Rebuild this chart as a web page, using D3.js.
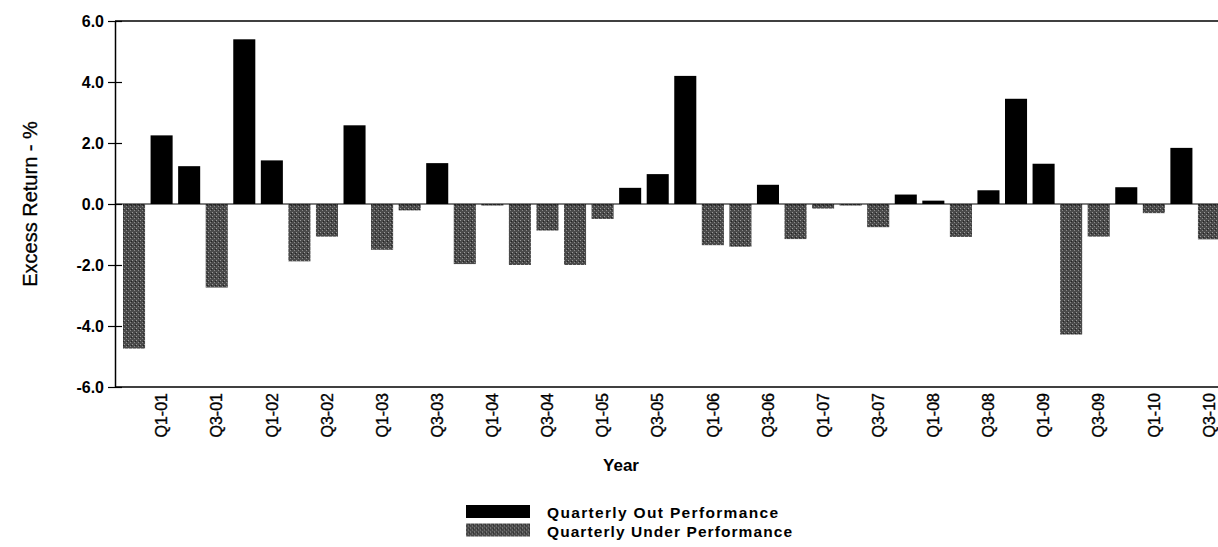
<!DOCTYPE html>
<html><head><meta charset="utf-8">
<script src="https://cdn.jsdelivr.net/npm/d3@7"></script>
<style>
body{margin:0;background:#fff}
svg text{font-family:"Liberation Sans",Arial,sans-serif;fill:#000}
</style>
</head><body>
<svg id="chart" width="1218" height="547"></svg>
<script>
// ---- data ----
const quarters = ["Q4-00","Q1-01","Q2-01","Q3-01","Q4-01","Q1-02","Q2-02","Q3-02","Q4-02","Q1-03",
  "Q2-03","Q3-03","Q4-03","Q1-04","Q2-04","Q3-04","Q4-04","Q1-05","Q2-05","Q3-05",
  "Q4-05","Q1-06","Q2-06","Q3-06","Q4-06","Q1-07","Q2-07","Q3-07","Q4-07","Q1-08",
  "Q2-08","Q3-08","Q4-08","Q1-09","Q2-09","Q3-09","Q4-09","Q1-10","Q2-10","Q3-10"];
const outPerformance = [0,2.25,1.24,0,5.40,1.43,0,0,2.58,0,
  0,1.34,0,0,0,0,0,0,0.53,0.98,
  4.20,0,0,0.63,0,0,0,0,0.31,0.11,
  0,0.45,3.45,1.32,0,0,0.55,0,1.84,0];
const underPerformance = [-4.74,0,0,-2.74,0,0,-1.88,-1.07,0,-1.50,
  -0.21,0,-1.97,-0.03,-2.00,-0.87,-2.00,-0.49,0,0,
  0,-1.35,-1.40,0,-1.15,-0.15,-0.03,-0.76,0,0,
  -1.08,0,0,0,-4.28,-1.07,0,-0.30,0,-1.16];
const yTicks = [-6,-4,-2,0,2,4,6];
const xTickLabels = ["Q1-01","Q3-01","Q1-02","Q3-02","Q1-03","Q3-03","Q1-04","Q3-04","Q1-05","Q3-05",
  "Q1-06","Q3-06","Q1-07","Q3-07","Q1-08","Q3-08","Q1-09","Q3-09","Q1-10","Q3-10"];
const seriesNames = ["Quarterly Out Performance","Quarterly Under Performance"];
const seriesColors = ["#000000","#4a4a4a"];

// ---- layout ----
const svg = d3.select("#chart");
const mLeft = 115, mTop = 21, mBottom = 387, mRight = 1230;
const FONT = "Liberation Sans, Arial, sans-serif";

const x = d3.scaleBand().domain(quarters).range([117.5, 1225.5]).padding(0.2);
const y = d3.scaleLinear().domain([-6, 6]).range([mBottom, mTop]);

// stipple pattern for the under-performance bars
const defs = svg.append("defs");
const pat = defs.append("pattern").attr("id", "stipple").attr("patternUnits", "userSpaceOnUse")
  .attr("width", 4).attr("height", 4);
pat.append("rect").attr("width", 4).attr("height", 4).attr("fill", seriesColors[1]);
pat.append("rect").attr("x", 0).attr("y", 0).attr("width", 1).attr("height", 1).attr("fill", "#9a9a9a");
pat.append("rect").attr("x", 2).attr("y", 2).attr("width", 1).attr("height", 1).attr("fill", "#8a8a8a");
pat.append("rect").attr("x", 3).attr("y", 1).attr("width", 1).attr("height", 1).attr("fill", "#222");
const fills = ["#000000", "url(#stipple)"];

// frame top line
svg.append("line").attr("x1", mLeft).attr("x2", mRight).attr("y1", mTop).attr("y2", mTop)
  .attr("stroke", "#000").attr("stroke-width", 1.5);

// bars
const series = [outPerformance, underPerformance];
series.forEach((vals, si) => {
  svg.append("g").selectAll("rect").data(vals.map((v, i) => ({q: quarters[i], v})).filter(d => d.v !== 0))
    .join("rect")
    .attr("x", d => x(d.q))
    .attr("width", x.bandwidth())
    .attr("y", d => y(Math.max(0, d.v)))
    .attr("height", d => Math.max(1.5, Math.abs(y(d.v) - y(0))))
    .attr("fill", fills[si]);
});

// zero line
svg.append("line").attr("x1", mLeft).attr("x2", mRight).attr("y1", y(0)).attr("y2", y(0))
  .attr("stroke", "#000").attr("stroke-width", 1.2);

// y axis
const yAxis = svg.append("g").attr("transform", `translate(${mLeft},0)`)
  .call(d3.axisLeft(y).tickValues(yTicks).tickFormat(d => d3.format(".1f")(d).replace("\u2212", "-"))
    .tickSize(7).tickSizeOuter(0).tickPadding(4));
yAxis.select(".domain").attr("stroke-width", 1.5);
yAxis.selectAll(".tick line").attr("x1", 7).attr("stroke-width", 1.2);
yAxis.selectAll("text").attr("font-size", 16).attr("font-weight", "bold").attr("font-family", FONT);

// x axis
const xAxis = svg.append("g").attr("transform", `translate(0,${mBottom})`)
  .call(d3.axisBottom(x).tickValues(xTickLabels).tickSize(0).tickSizeOuter(0));
xAxis.select(".domain").attr("d", `M${mLeft},0H${mRight}`).attr("stroke-width", 1.5);
xAxis.selectAll("text")
  .attr("font-size", 16).attr("font-family", FONT)
  .attr("stroke", "#000").attr("stroke-width", 0.35)
  .attr("text-anchor", "end")
  .attr("transform", "rotate(-90)")
  .attr("x", -6).attr("y", 0).attr("dy", "0.36em");

// axis titles
svg.append("text").attr("transform", `translate(37,${(mTop + mBottom) / 2}) rotate(-90)`)
  .attr("text-anchor", "middle").attr("font-size", 20)
  .attr("stroke", "#000").attr("stroke-width", 0.3).text("Excess Return - %");
svg.append("text").attr("x", 621).attr("y", 471).attr("text-anchor", "middle")
  .attr("font-size", 17).attr("font-weight", "bold").text("Year");

// legend
const lg = svg.append("g").attr("transform", "translate(466,505)");
const items = lg.selectAll("g").data(seriesNames).join("g")
  .attr("transform", (d, i) => `translate(0,${i * 18.5})`);
items.append("rect").attr("width", 64).attr("height", 13).attr("fill", (d, i) => fills[i]);
items.append("text").attr("x", 81).attr("y", 13).attr("font-size", 15.5).attr("font-weight", "bold")
  .attr("textLength", (d, i) => i === 0 ? 231 : 245).attr("lengthAdjust", "spacing").text(d => d);
</script>
</body></html>
